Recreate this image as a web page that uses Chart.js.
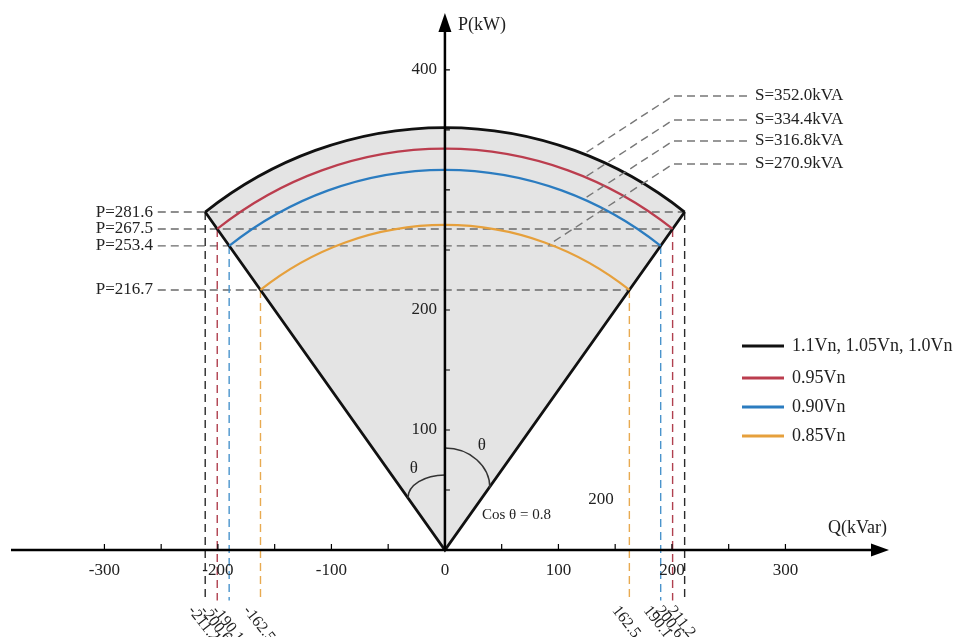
<!DOCTYPE html>
<html>
<head>
<meta charset="utf-8">
<script src="https://cdn.jsdelivr.net/npm/chart.js@4.4.1/dist/chart.umd.min.js"></script>
<style>
html,body{margin:0;padding:0;background:#fff;}
#wrap{width:955px;height:637px;position:relative;}
</style>
</head>
<body>
<div id="wrap"><canvas id="c"></canvas></div>
<script>
// ---- DATA ----
const seriesLabels = ['1.1Vn, 1.05Vn, 1.0Vn', '0.95Vn', '0.90Vn', '0.85Vn'];
const sValues = [352.0, 334.4, 316.8, 270.9];   // kVA (arc radius)
const qLimits = [211.2, 200.6, 190.1, 162.5];   // kVar at end of each arc
const pLimits = [281.6, 267.5, 253.4, 216.7];   // kW at end of each arc
const xTickValues = [-300, -200, -100, 0, 100, 200, 300];
const yTickValues = [100, 200, 400];
const xMinorTicks = [-300, -250, -200, -150, -100, -50, 0, 50, 100, 150, 200, 250, 300];
const yMinorTicks = [50, 100, 150, 200, 250, 300, 350, 400];

// ---- STYLE ----
const arcColors  = ['#111111', '#bb3d4e', '#2b7cc0', '#e6a03c'];
const dashColors = ['#2a2a2a', '#b0404f', '#4a94cc', '#e8aa50'];
const FONT = '"Liberation Serif", "Times New Roman", serif';
const FILL = '#e4e4e4';
const DROP_P = -42;     // where vertical guides stop (below the Q axis)
const LEFT_Q = -253;    // where horizontal guides start (after P= labels)

// ---- DATASETS (guides + sector edges) ----
const datasets = [];
datasets.push({
  data: [{x: -qLimits[0], y: pLimits[0]}, {x: 0, y: 0}, {x: qLimits[0], y: pLimits[0]}],
  borderColor: '#111', borderWidth: 2.8, showLine: true, pointRadius: 0, order: 0
});
qLimits.forEach((q, i) => {
  [-1, 1].forEach(side => {
    datasets.push({
      data: [{x: side * q, y: pLimits[i]}, {x: side * q, y: DROP_P}],
      borderColor: dashColors[i], borderDash: [8, 5], borderWidth: 1.4,
      showLine: true, pointRadius: 0, order: 2
    });
  });
  datasets.push({
    data: [{x: LEFT_Q, y: pLimits[i]}, {x: q, y: pLimits[i]}],
    borderColor: '#6a6a6a', borderDash: [8, 5], borderWidth: 1.4,
    showLine: true, pointRadius: 0, order: 3
  });
});

// ---- helpers ----
function arcParams(chart, r) {
  const x = chart.scales.x, y = chart.scales.y;
  const ox = x.getPixelForValue(0), oy = y.getPixelForValue(0);
  return { ox, oy, rx: x.getPixelForValue(r) - ox, ry: oy - y.getPixelForValue(r) };
}
function ang(q, p) { return Math.atan2(-p, q); }

const pqPlugin = {
  id: 'pqPlugin',
  beforeDatasetsDraw(chart) {
    const ctx = chart.ctx;
    const a = arcParams(chart, sValues[0]);
    ctx.save();
    ctx.beginPath();
    ctx.moveTo(a.ox, a.oy);
    ctx.ellipse(a.ox, a.oy, a.rx, a.ry, 0, ang(-qLimits[0], pLimits[0]), ang(qLimits[0], pLimits[0]), false);
    ctx.closePath();
    ctx.fillStyle = FILL;
    ctx.fill();
    ctx.restore();
  },
  afterDraw(chart) {
    const ctx = chart.ctx;
    const xs = chart.scales.x, ys = chart.scales.y;
    const ox = xs.getPixelForValue(0), oy = ys.getPixelForValue(0);
    ctx.save();

    // arcs
    sValues.forEach((s, i) => {
      const a = arcParams(chart, s);
      ctx.beginPath();
      ctx.ellipse(a.ox, a.oy, a.rx, a.ry, 0, ang(-qLimits[i], pLimits[i]), ang(qLimits[i], pLimits[i]), false);
      ctx.strokeStyle = arcColors[i];
      ctx.lineWidth = i === 0 ? 2.8 : 2.2;
      ctx.stroke();
    });

    // leader lines for S labels
    const leaderY = [96, 120, 141, 164];
    const bendX = 673, labelX = 752;
    ctx.setLineDash([8, 5]);
    ctx.strokeStyle = '#777';
    ctx.lineWidth = 1.4;
    sValues.forEach((s, i) => {
      let px = bendX, py = leaderY[i];
      for (let k = 0; k < 400; k++) {
        const q = xs.getValueForPixel(px), p = ys.getValueForPixel(py);
        if (Math.hypot(q, p) <= s) break;
        px -= 1; py += 0.65;
      }
      ctx.beginPath();
      ctx.moveTo(labelX - 5, leaderY[i]);
      ctx.lineTo(bendX, leaderY[i]);
      ctx.lineTo(px, py);
      ctx.stroke();
    });
    ctx.setLineDash([]);

    // angle marks
    ctx.strokeStyle = '#333';
    ctx.lineWidth = 1.5;
    ctx.beginPath();
    ctx.ellipse(ox, oy - 52, 37, 23, 0, -Math.PI / 2, -Math.PI, true);
    ctx.stroke();
    ctx.beginPath();
    ctx.ellipse(ox, oy - 62, 45, 40, 0, -Math.PI / 2, 0, false);
    ctx.stroke();

    // axes
    ctx.strokeStyle = '#000';
    ctx.fillStyle = '#000';
    ctx.lineWidth = 2.5;
    ctx.beginPath();
    ctx.moveTo(11, oy); ctx.lineTo(876, oy);
    ctx.moveTo(ox, oy); ctx.lineTo(ox, 28);
    ctx.stroke();
    ctx.beginPath();
    ctx.moveTo(889, oy); ctx.lineTo(871, oy - 6.5); ctx.lineTo(871, oy + 6.5); ctx.closePath();
    ctx.fill();
    ctx.beginPath();
    ctx.moveTo(ox, 13); ctx.lineTo(ox - 6.5, 32); ctx.lineTo(ox + 6.5, 32); ctx.closePath();
    ctx.fill();

    ctx.lineWidth = 1.2;
    ctx.beginPath();
    xMinorTicks.forEach(v => {
      const px = xs.getPixelForValue(v);
      ctx.moveTo(px, oy); ctx.lineTo(px, oy - 6);
    });
    yMinorTicks.forEach(v => {
      const py = ys.getPixelForValue(v);
      ctx.moveTo(ox, py); ctx.lineTo(ox + 5, py);
    });
    ctx.stroke();

    // tick labels
    ctx.fillStyle = '#222';
    ctx.font = '17px ' + FONT;
    ctx.textAlign = 'center';
    ctx.textBaseline = 'middle';
    xTickValues.forEach(v => {
      ctx.fillText(String(v), xs.getPixelForValue(v), oy + 21);
    });
    ctx.textAlign = 'right';
    yTickValues.forEach(v => {
      ctx.fillText(String(v), ox - 8, ys.getPixelForValue(v));
    });

    // axis titles
    ctx.font = '18px ' + FONT;
    ctx.textAlign = 'left';
    ctx.fillText('P(kW)', ox + 13, 25);
    ctx.fillText('Q(kVar)', 828, oy - 22);

    // P labels
    ctx.font = '17px ' + FONT;
    ctx.textAlign = 'right';
    pLimits.forEach(p => {
      ctx.fillText('P=' + p.toFixed(1), 153, ys.getPixelForValue(p));
    });

    // S labels
    ctx.textAlign = 'left';
    sValues.forEach((s, i) => {
      ctx.fillText('S=' + s.toFixed(1) + 'kVA', labelX + 3, leaderY[i]);
    });

    // rotated Q labels
    ctx.font = '16px ' + FONT;
    qLimits.forEach(q => {
      [-1, 1].forEach(side => {
        const px = xs.getPixelForValue(side * q) - 8;
        ctx.save();
        ctx.translate(px, 603);
        ctx.rotate(52 * Math.PI / 180);
        ctx.textAlign = 'left';
        ctx.textBaseline = 'top';
        ctx.fillText((side < 0 ? '-' : '') + q.toFixed(1), 0, 0);
        ctx.restore();
      });
    });

    // angle texts
    ctx.font = '17px ' + FONT;
    ctx.textAlign = 'center';
    ctx.textBaseline = 'middle';
    ctx.fillText('θ', ox - 31, oy - 81);
    ctx.fillText('θ', ox + 37, oy - 104);
    ctx.font = '15px ' + FONT;
    ctx.textAlign = 'left';
    ctx.fillText('Cos θ = 0.8', ox + 37, oy - 35);
    ctx.font = '17px ' + FONT;
    ctx.textAlign = 'center';
    ctx.fillText('200', 601, oy - 50);

    // legend
    const legY = [346, 378, 407, 436];
    ctx.font = '18px ' + FONT;
    ctx.textAlign = 'left';
    seriesLabels.forEach((lab, i) => {
      ctx.strokeStyle = arcColors[i];
      ctx.lineWidth = 2.8;
      ctx.beginPath();
      ctx.moveTo(742, legY[i]); ctx.lineTo(784, legY[i]);
      ctx.stroke();
      ctx.fillStyle = '#222';
      ctx.fillText(lab, 792, legY[i]);
    });

    ctx.restore();
  }
};

new Chart(document.getElementById('c'), {
  type: 'scatter',
  data: { datasets },
  options: {
    responsive: true,
    maintainAspectRatio: false,
    animation: false,
    layout: { padding: 0 },
    plugins: { legend: { display: false }, tooltip: { enabled: false } },
    scales: {
      x: { type: 'linear', min: -392, max: 449.4, display: false },
      y: { type: 'linear', min: -72.5, max: 458.3, display: false }
    }
  },
  plugins: [pqPlugin]
});
</script>
</body>
</html>
